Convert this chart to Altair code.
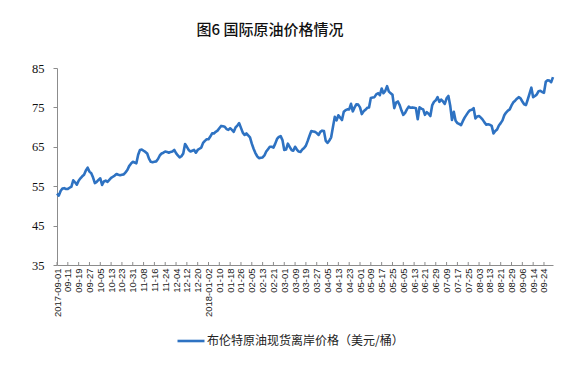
import altair as alt
import pandas as pd

TITLE = "图6 国际原油价格情况"
SERIES = "布伦特原油现货离岸价格（美元/桶）"

# Daily Brent price (trading days)
PRICES = [
    53.1, 52.6, 53.8, 54.4, 54.5, 54.3,
    54.3, 54.6, 54.9, 56.5, 56.0, 55.4,
    56.4, 57.0, 57.5, 57.9, 59.0, 59.7,
    58.7, 58.3, 57.2, 55.8, 56.1, 56.6,
    57.0, 55.3, 56.2, 56.4, 56.1, 56.6,
    57.1, 57.4, 57.7, 58.1, 57.9, 57.8,
    57.9, 58.0, 58.5, 59.1, 60.1, 60.7,
    61.2, 61.0, 60.8, 63.0, 64.2, 64.3,
    64.0, 63.7, 63.3, 62.0, 61.2, 61.1,
    61.2, 61.3, 61.9, 62.8, 63.3, 63.5,
    63.8, 63.7, 63.5, 63.7, 63.8, 64.2,
    63.4, 62.8, 62.3, 62.6, 63.3, 65.7,
    65.0, 64.2, 63.8, 64.0, 64.2, 63.5,
    64.2, 64.5, 64.8, 66.0, 66.5, 66.9,
    66.9, 67.6, 68.4, 68.4, 68.8, 69.1,
    69.7, 70.3, 70.2, 70.1, 69.5, 69.3,
    69.7, 69.3, 68.8, 69.9, 70.4, 71.0,
    69.8, 68.6, 68.0, 68.4, 67.9, 67.4,
    65.8, 64.5, 63.4, 62.6, 62.1, 62.2,
    62.3, 62.8, 63.8, 64.4, 65.0, 65.0,
    64.8, 65.8, 67.0, 67.5, 67.7, 66.7,
    64.2, 64.3, 65.8, 65.0, 64.2, 64.0,
    65.0, 64.3, 63.8, 63.7, 64.3, 64.7,
    65.3, 66.5, 67.8, 69.0, 68.9, 68.8,
    68.5, 68.0, 68.8, 69.1, 69.0, 66.5,
    66.0, 66.6, 67.4, 70.0, 72.6, 71.7,
    73.0, 72.4, 71.8, 73.9, 74.3, 74.5,
    74.5, 75.9, 74.0, 75.0, 75.8, 75.7,
    75.0, 73.3, 74.0, 74.4, 74.9, 75.0,
    77.4, 77.5, 77.6, 78.3, 78.6, 78.1,
    79.8, 78.6, 79.2, 80.4, 79.0, 78.6,
    78.2, 74.8, 76.2, 76.5, 75.6, 74.2,
    73.1, 73.6, 74.5, 75.2, 74.9, 75.0,
    74.9, 74.8, 72.0, 75.0, 74.7, 74.5,
    73.1, 73.8, 73.4, 72.8, 75.5, 76.4,
    76.8, 77.6, 76.4, 77.0, 76.5, 75.9,
    77.3, 77.9, 75.5, 71.8, 73.9, 71.6,
    71.0, 70.8, 70.5, 71.5, 72.4, 73.1,
    73.8, 74.3, 74.4, 74.8, 72.2, 72.7,
    72.8, 72.4, 71.9, 71.2, 70.6, 70.7,
    70.6, 70.3, 68.4, 69.0, 69.4, 70.4,
    71.0, 71.7, 73.0, 73.7, 74.2, 74.5,
    75.5, 76.3, 76.7, 77.2, 77.6, 77.3,
    76.5, 75.8, 75.6, 77.0, 78.5, 80.0,
    77.6, 77.9, 78.3, 79.1, 79.2, 78.9,
    78.7, 81.5, 81.9, 81.8, 81.4, 82.7,
]

# Category-axis labels, one every 6 trading days
TICK_LABELS = [
    "2017-09-01", "09-11", "09-19", "09-27", "10-05", "10-13", "10-23", "10-31",
    "11-08", "11-16", "11-24", "12-04", "12-12", "12-20", "2018-01-02", "01-10",
    "01-18", "01-26", "02-05", "02-13", "02-21", "03-01", "03-09", "03-19",
    "03-27", "04-05", "04-13", "04-23", "05-01", "05-09", "05-17", "05-25",
    "06-05", "06-13", "06-21", "06-29", "07-09", "07-17", "07-25", "08-03",
    "08-13", "08-21", "08-29", "09-06", "09-14", "09-24",
]
LABEL_STEP = 6
Y_TICKS = [35, 45, 55, 65, 75, 85]

df = pd.DataFrame({
    "idx": list(range(len(PRICES))),
    "price": PRICES,
    "series": [SERIES] * len(PRICES),
})
tick_pos = [i * LABEL_STEP for i in range(len(TICK_LABELS))]
ticks_df = pd.DataFrame({"idx": tick_pos})

label_arr = "[" + ",".join("'" + s + "'" for s in TICK_LABELS) + "]"
label_expr = label_arr + "[round(datum.value/" + str(LABEL_STEP) + ")]"

W, H = 496, 197
AXIS_COLOR = "#8c8c8c"
BLUE = "#2E72C2"

x_scale = alt.Scale(domain=[0, len(PRICES) - 1], nice=False, zero=False)
y_scale = alt.Scale(domain=[35, 85], nice=False, zero=False)

x_axis = alt.Axis(values=tick_pos, labelExpr=label_expr, labelAngle=270,
                  labelAlign="right", labelBaseline="middle",
                  labelFont="Liberation Sans", labelFontSize=9.5,
                  labelColor="#222222", labelPadding=3,
                  ticks=False, grid=False, domainColor=AXIS_COLOR,
                  labelOverlap=False, labelFlush=False, labelBound=False)

line = alt.Chart(df).mark_line(strokeWidth=2.6, strokeJoin="round").encode(
    x=alt.X("idx:Q", scale=x_scale, title=None, axis=x_axis),
    y=alt.Y("price:Q", scale=y_scale, title=None,
            axis=alt.Axis(values=Y_TICKS, grid=False, domainColor=AXIS_COLOR,
                          tickColor=AXIS_COLOR, tickSize=4,
                          labelFont="Liberation Serif", labelFontSize=12.5,
                          labelColor="#111111", labelPadding=9)),
    color=alt.Color("series:N", scale=alt.Scale(range=[BLUE]), title=None,
                    legend=alt.Legend(orient="none", legendX=119, legendY=258,
                                      symbolType="stroke", symbolSize=729,
                                      symbolStrokeWidth=2.6,
                                      labelFont="Noto Sans CJK SC", labelFontSize=12,
                                      labelColor="#222222", labelLimit=400,
                                      labelOffset=1)),
)

inner_ticks = alt.Chart(ticks_df).mark_rule(color=AXIS_COLOR, strokeWidth=1).encode(
    x=alt.X("idx:Q", scale=x_scale, title=None, axis=x_axis),
    y=alt.value(H),
    y2=alt.value(H - 3),
)

chart = alt.layer(line, inner_ticks).properties(
    width=W, height=H,
    title=alt.TitleParams(TITLE, font="Noto Sans CJK SC", fontSize=15,
                          fontWeight=500, color="#111111",
                          anchor="middle", dx=-35, offset=24),
    autosize=alt.AutoSizeParams(type="none"),
    padding={"left": 49, "top": 60, "right": 20, "bottom": 100},
).configure_view(stroke=None).configure_axisX(labelOverlap=False)

chart.save("out.html", embed_options={"renderer": "svg", "actions": False})
